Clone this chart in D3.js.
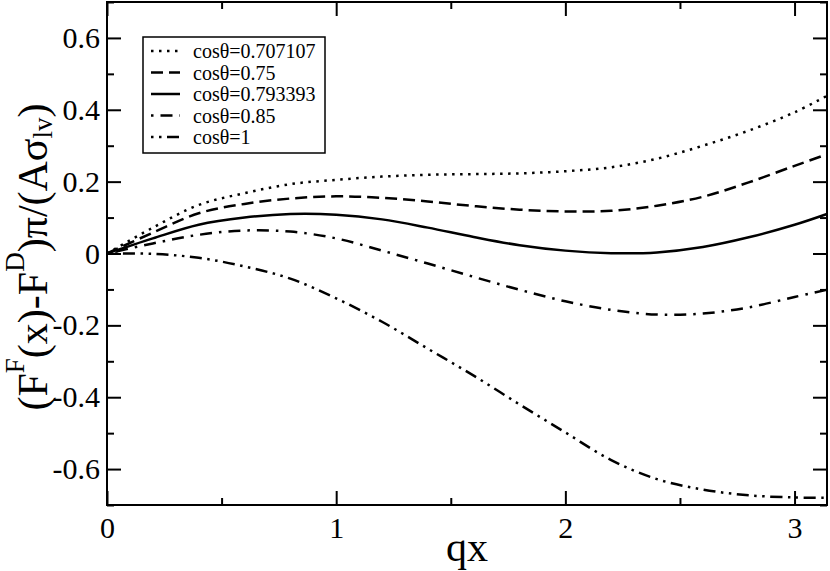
<!DOCTYPE html>
<html>
<head>
<meta charset="utf-8">
<script src="https://cdn.jsdelivr.net/npm/d3@7"></script>
<style>
  body { margin: 0; background: #fff; }
  svg { display: block; }
  text { font-family: "Liberation Serif", "Times New Roman", serif; fill: #000; }
</style>
</head>
<body>
<svg class="chart" width="830" height="571"></svg>
<script>
'use strict';

// qx sample positions
var qx = [0, 0.2, 0.4, 0.6, 0.8, 1.0, 1.2, 1.4, 1.6, 1.8, 2.0, 2.2, 2.4, 2.6, 2.8, 3.0, Math.PI];

// series values
var cos0707107 = [0, 0.072, 0.135, 0.168, 0.193, 0.205, 0.214, 0.219, 0.221, 0.223, 0.229, 0.240, 0.264, 0.300, 0.342, 0.393, 0.439];
var cos075     = [0, 0.058, 0.112, 0.138, 0.153, 0.159, 0.155, 0.145, 0.132, 0.122, 0.117, 0.119, 0.133, 0.158, 0.198, 0.244, 0.276];
var cos0793393 = [0, 0.042, 0.080, 0.100, 0.110, 0.108, 0.095, 0.072, 0.046, 0.023, 0.008, 0.001, 0.003, 0.018, 0.045, 0.080, 0.110];
var cos085     = [0, 0.028, 0.052, 0.064, 0.061, 0.042, 0.008, -0.028, -0.065, -0.101, -0.133, -0.157, -0.170, -0.167, -0.150, -0.121, -0.101];
var cos1       = [0, -0.001, -0.012, -0.036, -0.070, -0.125, -0.190, -0.265, -0.340, -0.420, -0.498, -0.575, -0.628, -0.657, -0.673, -0.679, -0.680];

var seriesNames = ['cosθ=0.707107', 'cosθ=0.75', 'cosθ=0.793393', 'cosθ=0.85', 'cosθ=1'];
var seriesValues = [cos0707107, cos075, cos0793393, cos085, cos1];
var dashes = ['2.5,5.5', '12,6', null, '2.5,7,12,7', '2.5,5.5,2.5,5.5,12,5.5'];

var xTicks = [0, 1, 2, 3];
var xMinor = [0.5, 1.5, 2.5];
var yTicks = [-0.6, -0.4, -0.2, 0, 0.2, 0.4, 0.6];
var yMinor = [-0.7, -0.5, -0.3, -0.1, 0.1, 0.3, 0.5, 0.7];

var plotLeft = 107, plotRight = 827, plotTop = 2, plotBottom = 505;

var svg = d3.select('svg.chart');

var xScale = d3.scaleLinear().domain([0, Math.PI]).range([plotLeft, plotRight]);
var yScale = d3.scaleLinear().domain([-0.7, 0.7]).range([plotBottom, plotTop]);

//plain hyphen for negatives, like the original
function fmt(d) { return d === 0 ? '0' : d.toFixed(1); }

//Axes, ticks pointing inward on all sides
function styleAxis(g) {
  g.attr('font-family', null);
  g.select('.domain').remove();
  g.selectAll('.tick line').attr('stroke', '#000').attr('stroke-width', 2);
  g.selectAll('.tick text').style('font-size', '30px').style('font-family', '"Liberation Serif", "Times New Roman", serif');
}

svg.append('g').attr('transform', 'translate(0,' + plotBottom + ')')
  .call(d3.axisBottom(xScale).tickValues(xTicks).tickSizeInner(-14).tickSizeOuter(0).tickPadding(12).tickFormat(d3.format('d')))
  .call(styleAxis);
svg.append('g').attr('transform', 'translate(0,' + plotBottom + ')')
  .call(d3.axisBottom(xScale).tickValues(xMinor).tickSizeInner(-7).tickSizeOuter(0).tickFormat(''))
  .call(styleAxis);
svg.append('g').attr('transform', 'translate(0,' + plotTop + ')')
  .call(d3.axisTop(xScale).tickValues(xTicks).tickSizeInner(-14).tickSizeOuter(0).tickFormat(''))
  .call(styleAxis);
svg.append('g').attr('transform', 'translate(0,' + plotTop + ')')
  .call(d3.axisTop(xScale).tickValues(xMinor).tickSizeInner(-7).tickSizeOuter(0).tickFormat(''))
  .call(styleAxis);

svg.append('g').attr('transform', 'translate(' + plotLeft + ',0)')
  .call(d3.axisLeft(yScale).tickValues(yTicks).tickSizeInner(-14).tickSizeOuter(0).tickPadding(7).tickFormat(fmt))
  .call(styleAxis);
svg.append('g').attr('transform', 'translate(' + plotLeft + ',0)')
  .call(d3.axisLeft(yScale).tickValues(yMinor).tickSizeInner(-7).tickSizeOuter(0).tickFormat(''))
  .call(styleAxis);
svg.append('g').attr('transform', 'translate(' + plotRight + ',0)')
  .call(d3.axisRight(yScale).tickValues(yTicks).tickSizeInner(-14).tickSizeOuter(0).tickFormat(''))
  .call(styleAxis);
svg.append('g').attr('transform', 'translate(' + plotRight + ',0)')
  .call(d3.axisRight(yScale).tickValues(yMinor).tickSizeInner(-7).tickSizeOuter(0).tickFormat(''))
  .call(styleAxis);

//Frame
svg.append('rect').attr('x', plotLeft).attr('y', plotTop).attr('width', plotRight - plotLeft).attr('height', plotBottom - plotTop)
  .attr('fill', 'none').attr('stroke', '#000').attr('stroke-width', 2);

//Curves
var line = d3.line().x(function (d) { return xScale(d[0]); }).y(function (d) { return yScale(d[1]); })
  .curve(d3.curveCatmullRom.alpha(0.5));

seriesValues.forEach(function (vals, i) {
  svg.append('path')
    .datum(qx.map(function (x, j) { return [x, vals[j]]; }))
    .attr('d', line)
    .attr('fill', 'none')
    .attr('stroke', '#000')
    .attr('stroke-width', 2.5)
    .attr('stroke-dasharray', dashes[i]);
});

//Legend
var legend = svg.append('g').attr('transform', 'translate(143,37)');
legend.append('rect').attr('width', 182).attr('height', 116).attr('fill', '#fff').attr('stroke', '#000').attr('stroke-width', 1.5);
seriesNames.forEach(function (name, i) {
  var cy = 14 + i * 21.5;
  legend.append('line').attr('x1', 8).attr('x2', 37).attr('y1', cy).attr('y2', cy)
    .attr('stroke', '#000').attr('stroke-width', 2.5).attr('stroke-dasharray', dashes[i]);
  legend.append('text').attr('x', 50).attr('y', cy + 7).style('font-size', '20px').text(name);
});

//x-axis label
svg.append('text').attr('x', xScale(Math.PI / 2)).attr('y', 561).style('text-anchor', 'middle')
  .style('font-size', '42px').text('qx');

//y-axis label
var yl = svg.append('text').attr('transform', 'translate(47,257) rotate(-90)').style('text-anchor', 'middle')
  .style('font-size', '42px');
yl.append('tspan').text('(F');
yl.append('tspan').attr('dy', -23).style('font-size', '27px').text('F');
yl.append('tspan').attr('dy', 23).text('(x)-F');
yl.append('tspan').attr('dy', -23).style('font-size', '27px').text('D');
yl.append('tspan').attr('dy', 23).text(')π/(Aσ');
yl.append('tspan').attr('dy', 5).style('font-size', '27px').text('lv');
yl.append('tspan').attr('dy', -5).text(')');
</script>
</body>
</html>
